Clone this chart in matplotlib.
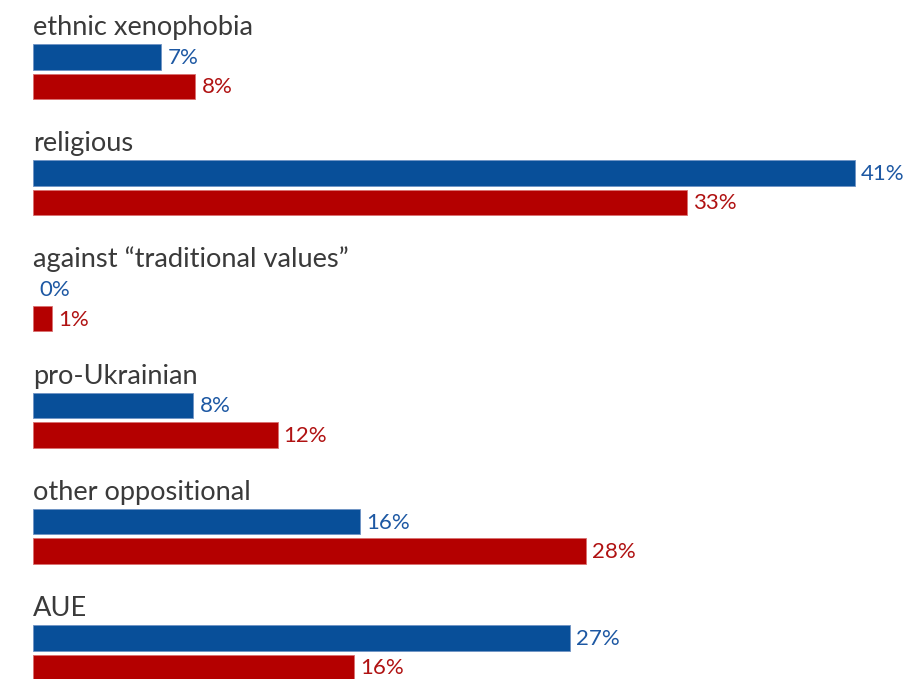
import matplotlib
matplotlib.use("Agg")
import matplotlib.pyplot as plt

# data
categories = ["ethnic xenophobia", "religious", "against \u201ctraditional values\u201d",
              "pro-Ukrainian", "other oppositional", "AUE"]
blue_vals = [6.4, 41.0, 0.0, 8.0, 16.3, 26.8]
red_vals = [8.1, 32.6, 0.95, 12.2, 27.6, 16.0]
blue_labels = ["7%", "41%", "0%", "8%", "16%", "27%"]
red_labels = ["8%", "33%", "1%", "12%", "28%", "16%"]

BLUE = "#084f99"
RED = "#b40000"
BLUE_TXT = "#1d58a3"
RED_TXT = "#b01212"

plt.rcParams['font.family'] = ['Lato', 'DejaVu Sans']

W, H = 912, 679
fig = plt.figure(figsize=(W / 100, H / 100), dpi=100)
ax = fig.add_axes([0, 0, 1, 1])

# x in percent, y in pixel rows from the top
px_per_pct = 20.05
x0 = 33
ax.set_xlim(-x0 / px_per_pct, (W - x0) / px_per_pct)
ax.set_ylim(H, 0)
ax.axis("off")

step = 116.2
bar_h = 25.5
off = 6 / px_per_pct
for i, cat in enumerate(categories):
    top = 44 + i * step
    ax.text(0, top - 9, cat, fontsize=19.6, color="#3a3a3a", va="baseline", ha="left")
    yb = top + bar_h / 2
    yr = top + 29.5 + bar_h / 2
    if blue_vals[i] > 0:
        ax.barh(yb, blue_vals[i], height=bar_h, color=BLUE, edgecolor="#6f93c4", linewidth=0.6)
    if red_vals[i] > 0:
        ax.barh(yr, red_vals[i], height=bar_h, color=RED, edgecolor="#d97070", linewidth=0.6)
    ax.text(blue_vals[i] + off, yb + 1, blue_labels[i], fontsize=16, color=BLUE_TXT,
            va="center", ha="left")
    ax.text(red_vals[i] + off, yr + 1, red_labels[i], fontsize=16, color=RED_TXT,
            va="center", ha="left")

fig.savefig("out.png", dpi=100, facecolor="white")
